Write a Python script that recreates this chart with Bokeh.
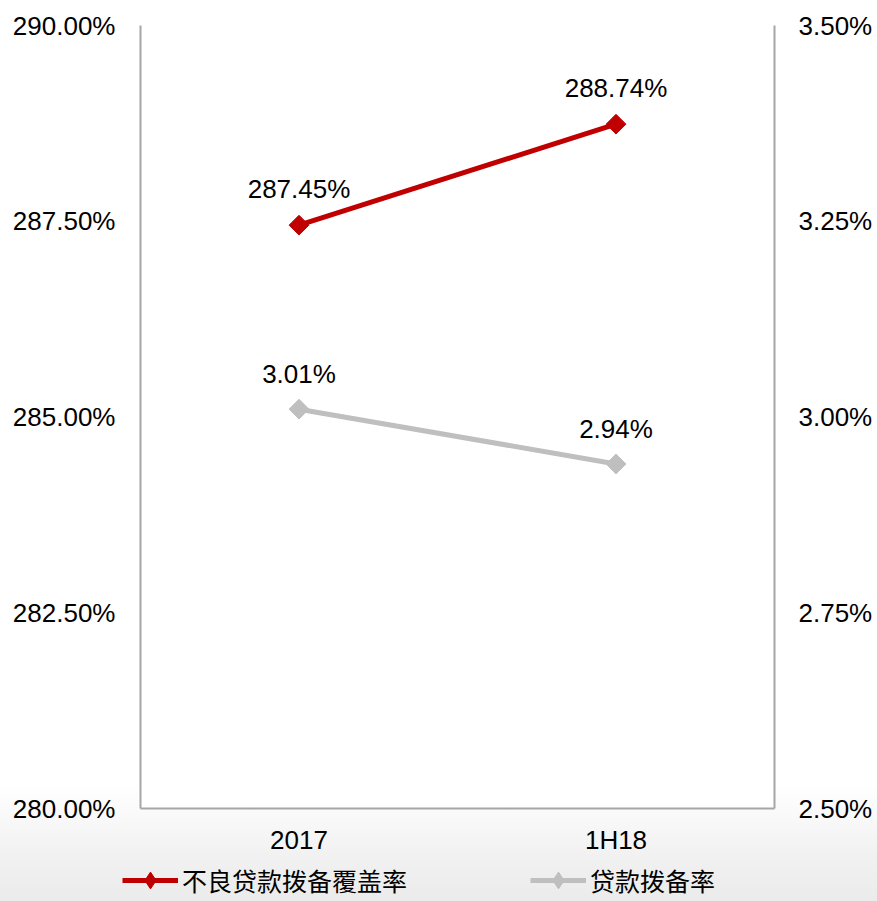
import math
from bokeh.plotting import figure
from bokeh.layouts import column
from bokeh.models import (FactorRange, Range1d, LinearAxis, FixedTicker, PrintfTickFormatter,
                          ColumnDataSource, LabelSet, Legend, LegendItem)
from bokeh.core.properties import value
from bokeh.embed import file_html
from bokeh.resources import INLINE

categories = ["2017", "1H18"]
npl_coverage = [287.45, 288.74]      # 不良贷款拨备覆盖率 (left axis)
loan_provision = [3.01, 2.94]        # 贷款拨备率 (right axis)
npl_labels = ["287.45%", "288.74%"]
prov_labels = ["3.01%", "2.94%"]
series_names = ["不良贷款拨备覆盖率", "贷款拨备率"]
left_ticks = [280.0, 282.5, 285.0, 287.5, 290.0]
right_ticks = [2.50, 2.75, 3.00, 3.25, 3.50]

RED = "#c00000"
GRAY = "#bfbfbf"
AXIS = "#a6a6a6"
FONT = "Liberation Sans"
CJK = "Noto Sans CJK SC"

p = figure(x_range=FactorRange(*categories, range_padding=0), y_range=Range1d(280, 290),
           width=877, height=857,
           min_border_left=140, min_border_right=103, min_border_top=25, min_border_bottom=40,
           output_backend="svg", toolbar_location=None)
p.extra_y_ranges = {"right": Range1d(2.5, 3.5)}
p.outline_line_color = None
p.background_fill_color = "white"
p.border_fill_color = None
p.styles = {"background": "linear-gradient(to bottom, #ffffff 0px, #ffffff 785px, #f1f1f1 857px)"}
p.xgrid.grid_line_color = None
p.ygrid.grid_line_color = None

ya = p.yaxis[0]
ya.ticker = FixedTicker(ticks=left_ticks)
ya.formatter = PrintfTickFormatter(format="%.2f%%")
ra = LinearAxis(y_range_name="right", ticker=FixedTicker(ticks=right_ticks),
                formatter=PrintfTickFormatter(format="%.2f%%"))
p.add_layout(ra, "right")

for ax in [ya, ra]:
    ax.axis_line_color = AXIS
    ax.axis_line_width = 2
    ax.major_tick_line_color = None
    ax.minor_tick_line_color = None
    ax.major_label_text_font = FONT
    ax.major_label_text_font_size = "26px"
    ax.major_label_text_color = "#000000"
ya.major_label_standoff = 19
ra.major_label_standoff = 18

xa = p.xaxis[0]
xa.axis_line_color = AXIS
xa.axis_line_width = 2
xa.major_tick_line_color = None
xa.minor_tick_line_color = None
xa.major_label_text_font = FONT
xa.major_label_text_font_size = "26px"
xa.major_label_text_color = "#000000"
xa.major_label_standoff = 10

src1 = ColumnDataSource(dict(x=categories, y=npl_coverage, t=npl_labels))
src2 = ColumnDataSource(dict(x=categories, y=loan_provision, t=prov_labels))

p.line("x", "y", source=src1, line_color=RED, line_width=5)
p.scatter("x", "y", source=src1, marker="square", angle=math.pi / 4, size=14,
          fill_color=RED, line_color=RED)
p.line("x", "y", source=src2, line_color=GRAY, line_width=5, y_range_name="right")
p.scatter("x", "y", source=src2, marker="square", angle=math.pi / 4, size=14,
          fill_color=GRAY, line_color=GRAY, y_range_name="right")

lab1 = LabelSet(x="x", y="y", text="t", source=src1, y_offset=36, text_align="center",
                text_baseline="middle", text_font=value(FONT), text_font_size="26px",
                text_color="#000000")
lab2 = LabelSet(x="x", y="y", text="t", source=src2, y_offset=35, text_align="center",
                text_baseline="middle", text_font=value(FONT), text_font_size="26px",
                text_color="#000000", y_range_name="right")
p.add_layout(lab1)
p.add_layout(lab2)

# legend strip below the chart (proxy renderers fall outside its view)
q = figure(x_range=FactorRange(*categories), y_range=Range1d(0, 1),
           width=877, height=44, min_border=0, x_axis_location=None, y_axis_location=None,
           output_backend="svg", toolbar_location=None)
q.outline_line_color = None
q.grid.visible = False
q.background_fill_color = None
q.border_fill_color = None
q.styles = {"background": "linear-gradient(to bottom, #f1f1f1 0px, #ebebeb 44px)"}

legend_x, legend_spacing = 122, 123
try:
    p.frame_align = False
    q.frame_align = False
except Exception:
    legend_x, legend_spacing = 0, 90

items = []
for name, src, col in zip(series_names, [src1, src2], [RED, GRAY]):
    ln = q.line("x", "y", source=src, line_color=col, line_width=5)
    mk = q.scatter("x", "y", source=src, marker="diamond", size=20, fill_color=col, line_color=col)
    items.append(LegendItem(label=name, renderers=[ln, mk]))
legend = Legend(items=items, orientation="horizontal", location=(legend_x, 0),
                glyph_width=56, glyph_height=42, label_standoff=4, spacing=legend_spacing,
                padding=0, margin=0, border_line_color=None, background_fill_alpha=0,
                label_text_font=CJK, label_text_font_size="25px", label_text_color="#000000",
                label_height=42)
q.add_layout(legend)

layout = column(p, q, spacing=0)
open("out.html", "w").write(file_html(layout, INLINE))
